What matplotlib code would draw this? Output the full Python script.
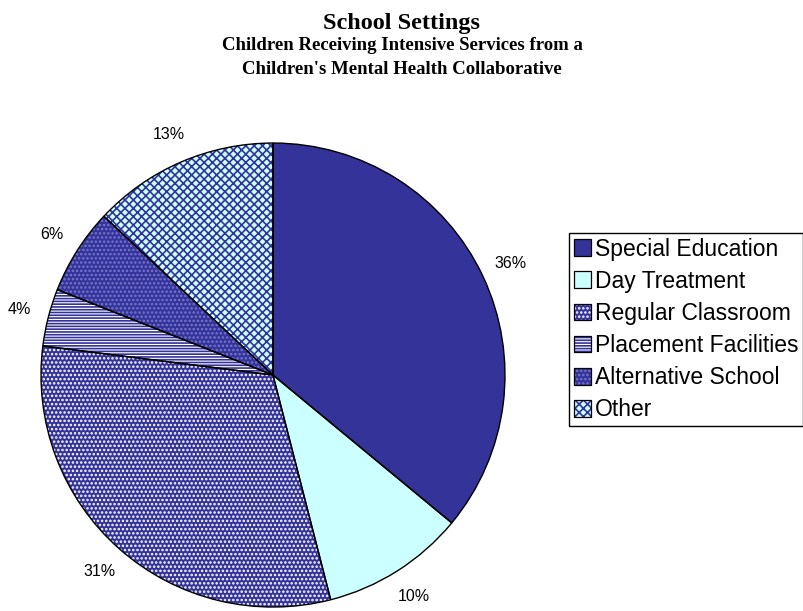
import matplotlib.pyplot as plt
from matplotlib.patches import Patch, Wedge
from matplotlib.legend_handler import HandlerTuple

categories = ["Special Education", "Day Treatment", "Regular Classroom",
              "Placement Facilities", "Alternative School", "Other"]
shares = [36, 10, 31, 4, 6, 13]

face_colors = ["#333399", "#CCFFFF", "#333399", "#FFFFFF", "#333399", "#CCFFFF"]
hatches = [None, None, "....", "------", "....", "xxxx"]
hatch_colors = [None, None, "#FFFFFF", "#333399", "#7777CC", "#333399"]

plt.rcParams["hatch.linewidth"] = 1.2

fig = plt.figure(figsize=(8.04, 6.11), dpi=100)
ax = fig.add_axes([0.0510, 0.0065, 0.5771, 0.7594])

# base fill
wedges, _ = ax.pie(shares, colors=face_colors, startangle=90, counterclock=False,
                   wedgeprops=dict(linewidth=0))
# hatch overlay in its own colour
for w, h, hc in zip(wedges, hatches, hatch_colors):
    if h:
        ax.add_patch(Wedge(w.center, w.r, w.theta1, w.theta2, facecolor="none",
                           edgecolor=hc, hatch=h, linewidth=0))
# outlines and labels
ax.pie(shares, colors=["none"] * len(shares), startangle=90, counterclock=False,
       autopct="%d%%", pctdistance=1.13,
       wedgeprops=dict(edgecolor="black", linewidth=1.0),
       textprops=dict(fontsize=11.5, family="Liberation Sans"))
ax.set_xlim(-1, 1)
ax.set_ylim(-1, 1)
ax.set_aspect("equal")
ax.axis("off")

handles = []
for fc, h, hc in zip(face_colors, hatches, hatch_colors):
    parts = [Patch(facecolor=fc, linewidth=0)]
    if h:
        parts.append(Patch(facecolor="none", edgecolor=hc, hatch=h, linewidth=0))
    parts.append(Patch(facecolor="none", edgecolor="black", linewidth=0.9))
    handles.append(tuple(parts))

leg = fig.legend(handles, categories, loc="upper left", bbox_to_anchor=(0.7077, 0.6187),
                 prop=dict(family="Liberation Sans", size=16.5),
                 handler_map={tuple: HandlerTuple(ndivide=1, pad=0)},
                 handlelength=0.75, handleheight=0.75, handletextpad=0.2,
                 labelspacing=0.4, borderpad=0.2, borderaxespad=0,
                 fancybox=False, edgecolor="black", framealpha=1)
leg.get_frame().set_linewidth(1.0)

fig.text(0.5, 0.962, "School Settings", ha="center", va="center",
         family="Liberation Serif", weight="bold", fontsize=17.5)
fig.text(0.5, 0.925, "Children Receiving Intensive Services from a", ha="center",
         va="center", family="Liberation Serif", weight="bold", fontsize=13.5)
fig.text(0.5, 0.887, "Children's Mental Health Collaborative", ha="center",
         va="center", family="Liberation Serif", weight="bold", fontsize=13.5)

fig.savefig("out.png", dpi=100)
